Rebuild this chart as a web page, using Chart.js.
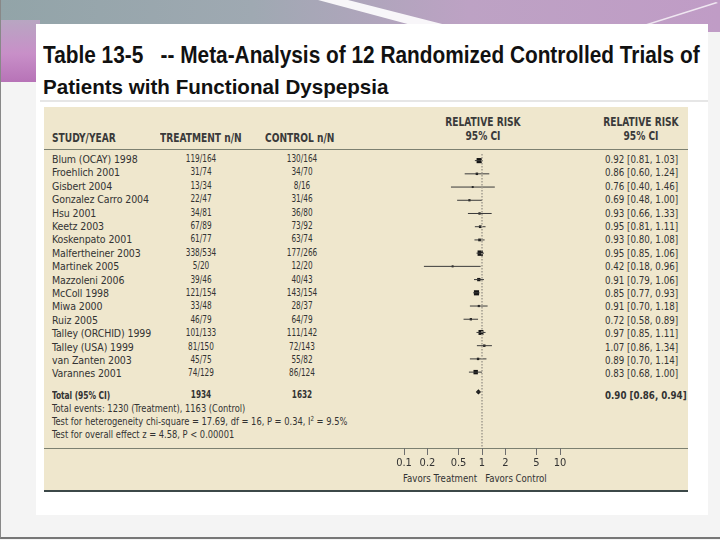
<!DOCTYPE html>
<html lang="en">
<head>
<meta charset="UTF-8" />
<title>Table 13-5 Meta-Analysis</title>
<script src="https://cdn.jsdelivr.net/npm/chart.js"></script>
<style>
  body {
    margin: 0;
    width: 720px;
    height: 540px;
    overflow: hidden;
    position: relative;
    background: #f4f4f4;
    font-family: "Liberation Sans Narrow", "DejaVu Sans Condensed", "Liberation Sans", sans-serif;
    color: #333;
  }
  .abs { position: absolute; white-space: nowrap; }
  .topband {
    left: 0; top: 0; width: 720px; height: 32px;
    background: linear-gradient(to right, #92a4a8 0%, #9fa9b2 35%, #bda2c4 65%, #c09cc6 100%);
  }
  .leftband {
    left: 0; top: 20px; width: 40px; height: 62px;
    background: linear-gradient(to bottom, #b8a6c2 0%, #c88fc8 55%, #b773b7 100%);
  }
  .swoosh {
    left: 0; top: 0; width: 720px; height: 26px;
    background: rgba(255,255,255,0.9);
    clip-path: polygon(318px 0, 348px 0, 450px 26px, 415px 26px);
  }
  .streak {
    left: 0; top: 0; width: 720px; height: 26px;
    background: rgba(255,255,255,0.75);
    clip-path: polygon(640px 26px, 716px 2px, 718px 3px, 645px 26px);
  }
  .frame { left: 0; top: 0; width: 719px; height: 537px; border-left: 1px solid #888; border-bottom: 2px solid #777; }
  .panel { left: 36px; top: 24px; width: 672px; height: 491px; background: #fff; overflow: hidden; }
  .title { font-family: "Liberation Sans", Arial, sans-serif; font-weight: bold; color: #111; transform-origin: left top; }
  .rule { background: #7c8070; height: 1px; }
  .table { left: 44px; top: 107px; width: 644px; height: 383px; background: #efe7cd; border-bottom: 2px solid #3c4848; }
  .hdr { font-size: 11.5px; font-weight: bold; color: #3a3a3a; line-height: 14px; transform: scaleX(0.88); transform-origin: left center; }
  .hdr.ctr { transform-origin: center center; }
  .cell { font-size: 10.5px; line-height: 14px; height: 14px; transform-origin: left center; }
  .ctr { text-align: center; width: 70px; }
  .num { font-size: 11px; transform: scaleX(0.74); transform-origin: center center; }
  .ci { transform: scaleX(0.92); }
  .foot { transform: scaleX(0.88); }
  .name { letter-spacing: -0.1px; }
  .bold { font-weight: bold; }
  .name.bold { transform: scaleX(0.8); }
  canvas { position: absolute; left: 384px; top: 150px; }
</style>
</head>
<body>
  <div class="abs topband"></div>
  <div class="abs leftband"></div>
  <div class="abs swoosh"></div>
  <div class="abs streak"></div>
  <div class="abs frame"></div>

  <div class="abs panel">
    <div class="abs title" style="left:7px; top:18px; font-size:23px; transform:scaleX(0.905);">Table 13-5&nbsp;&nbsp;&nbsp;-- Meta-Analysis of 12 Randomized Controlled Trials of</div>
    <div class="abs title" style="left:7px; top:51px; font-size:21px; transform:scaleX(0.98);">Patients with Functional Dyspepsia</div>
    <div class="abs" style="left:4px; top:76px; width:668px; height:2px; background:#e6e6e6;"></div>
  </div>

  <div class="abs table"></div>

  <div class="abs hdr" style="left:52px; top:131px;">STUDY/YEAR</div>
  <div class="abs hdr" style="left:160px; top:131px;">TREATMENT n/N</div>
  <div class="abs hdr" style="left:265px; top:131px;">CONTROL n/N</div>
  <div class="abs hdr ctr" style="left:433px; top:115px; width:100px;">RELATIVE RISK<br>95% CI</div>
  <div class="abs hdr ctr" style="left:591px; top:115px; width:100px;">RELATIVE RISK<br>95% CI</div>
  <div class="abs rule" style="left:44px; top:149px; width:644px;"></div>
  <div class="abs rule" style="left:44px; top:448px; width:644px;"></div>

  <div id="rows"></div>

  <div class="abs cell foot" style="left:52px; top:401px;">Total events: 1230 (Treatment), 1163 (Control)</div>
  <div class="abs cell foot" style="left:52px; top:414px;">Test for heterogeneity chi-square = 17.69, df = 16, P = 0.34, I<sup style="font-size:7px; line-height:0;">2</sup> = 9.5%</div>
  <div class="abs cell foot" style="left:52px; top:427px;">Test for overall effect z = 4.58, P &lt; 0.00001</div>
  <div class="abs cell" style="left:403px; top:471px; transform:scaleX(0.91);">Favors Treatment&nbsp;&nbsp;&nbsp;Favors Control</div>

  <canvas id="forest" width="196" height="328"></canvas>

  <script>
    const studies = ['Blum (OCAY) 1998', 'Froehlich 2001', 'Gisbert 2004', 'Gonzalez Carro 2004', 'Hsu 2001',
      'Keetz 2003', 'Koskenpato 2001', 'Malfertheiner 2003', 'Martinek 2005', 'Mazzoleni 2006', 'McColl 1998',
      'Miwa 2000', 'Ruiz 2005', 'Talley (ORCHID) 1999', 'Talley (USA) 1999', 'van Zanten 2003', 'Varannes 2001'];
    const treatment = ['119/164', '31/74', '13/34', '22/47', '34/81', '67/89', '61/77', '338/534', '5/20', '39/46',
      '121/154', '33/48', '46/79', '101/133', '81/150', '45/75', '74/129'];
    const control = ['130/164', '34/70', '8/16', '31/46', '36/80', '73/92', '63/74', '177/266', '12/20', '40/43',
      '143/154', '28/37', '64/79', '111/142', '72/143', '55/82', '86/124'];
    const rr = [0.92, 0.86, 0.76, 0.69, 0.93, 0.95, 0.93, 0.95, 0.42, 0.91, 0.85, 0.91, 0.72, 0.97, 1.07, 0.89, 0.83];
    const ciLow = [0.81, 0.60, 0.40, 0.48, 0.66, 0.81, 0.80, 0.85, 0.18, 0.79, 0.77, 0.70, 0.58, 0.85, 0.86, 0.70, 0.68];
    const ciHigh = [1.03, 1.24, 1.46, 1.00, 1.33, 1.11, 1.08, 1.06, 0.96, 1.06, 0.93, 1.18, 0.89, 1.11, 1.34, 1.14, 1.00];
    // study weights (%), guessed from the square sizes
    const weights = [11, 2.5, 1.2, 2, 2.2, 3, 3, 12, 0.8, 4.5, 11, 2, 2.2, 10, 2.4, 2.4, 8];

    const totalTreatment = '1934';
    const totalControl = '1632';
    const totalRR = 0.90, totalLow = 0.86, totalHigh = 0.94;

    const tickValues = [0.1, 0.2, 0.5, 1, 2, 5, 10];
    const tickLabels = ['0.1', '0.2', '0.5', '1', '2', '5', '10'];

    // row layout: 13.4px per row, total row sits 1.5 rows under the last study
    const rowH = 13.4;
    const totalPos = studies.length + 0.5;
    const yMin = -0.5, yMax = 21.74;

    const fmt = (a, b, c) => a.toFixed(2) + ' [' + b.toFixed(2) + ', ' + c.toFixed(2) + ']';

    let html = '';
    const addRow = (pos, s, t, c, ci, bold) => {
      const top = 152 + rowH * pos;
      const b = bold ? ' bold' : '';
      html += `<div class="abs cell name${b}" style="left:52px;top:${top}px;">${s}</div>`;
      html += `<div class="abs cell ctr num${b}" style="left:166px;top:${top}px;">${t}</div>`;
      html += `<div class="abs cell ctr num${b}" style="left:267px;top:${top}px;">${c}</div>`;
      html += `<div class="abs cell ci${b}" style="left:605px;top:${top}px;">${ci}</div>`;
    };
    studies.forEach((s, i) => addRow(i, s, treatment[i], control[i], fmt(rr[i], ciLow[i], ciHigh[i]), false));
    addRow(totalPos + 0.1, 'Total (95% CI)', totalTreatment, totalControl, fmt(totalRR, totalLow, totalHigh), true);
    document.getElementById('rows').innerHTML = html;

    const ciSets = studies.map((s, i) => ({
      type: 'line',
      data: [{x: ciLow[i], y: i}, {x: ciHigh[i], y: i}],
      borderColor: '#3a3a3a',
      borderWidth: 1,
      pointRadius: 0
    }));
    ciSets.push({
      type: 'line',
      data: [{x: totalLow, y: totalPos}, {x: totalHigh, y: totalPos}],
      borderColor: '#3a3a3a',
      borderWidth: 1,
      pointRadius: 0
    });

    new Chart(document.getElementById('forest').getContext('2d'), {
      type: 'scatter',
      data: {
        datasets: [
          {
            type: 'line',
            data: [{x: 1, y: yMin}, {x: 1, y: yMax}],
            borderColor: '#a29d90',
            borderWidth: 1.5,
            borderDash: [1.5, 1.5],
            pointRadius: 0
          },
          ...ciSets,
          {
            data: rr.map((v, i) => ({x: v, y: i})),
            pointStyle: 'rect',
            pointRadius: weights.map(w => Math.max(1.4, 1.1 * Math.sqrt(w))),
            backgroundColor: '#151515',
            borderColor: '#151515',
            borderWidth: 0
          },
          {
            data: [{x: totalRR, y: totalPos}],
            pointStyle: 'rectRot',
            pointRadius: 2.6,
            backgroundColor: '#151515',
            borderWidth: 0
          }
        ]
      },
      options: {
        responsive: false,
        animation: false,
        layout: { padding: { left: 20, right: 20, top: 0, bottom: 0 } },
        plugins: { legend: { display: false }, tooltip: { enabled: false } },
        scales: {
          x: {
            type: 'logarithmic',
            min: 0.1,
            max: 10,
            afterBuildTicks: s => { s.ticks = tickValues.map(v => ({value: v})); },
            afterFit: s => { s.height = 30; },
            ticks: {
              autoSkip: false,
              maxRotation: 0,
              padding: 2,
              color: '#333',
              font: { family: '"Liberation Sans Narrow", "DejaVu Sans Condensed", sans-serif', size: 11 },
              callback: (v, i) => tickLabels[i]
            },
            grid: { drawOnChartArea: false, drawTicks: true, tickLength: 7, color: '#6e6e6e' },
            border: { display: false }
          },
          y: {
            type: 'linear',
            reverse: true,
            min: yMin,
            max: yMax,
            display: false
          }
        }
      }
    });
  </script>
</body>
</html>
